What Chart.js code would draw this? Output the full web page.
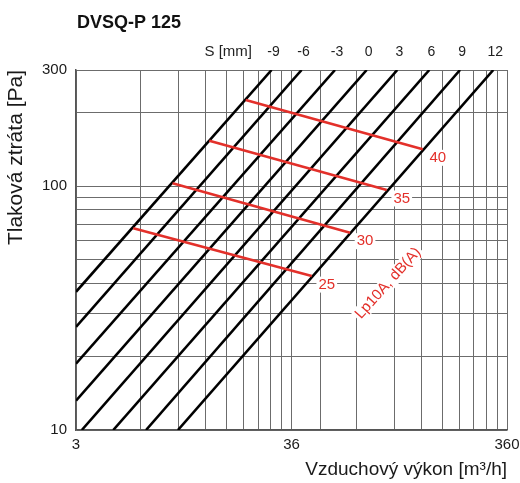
<!DOCTYPE html>
<html>
<head>
<meta charset="utf-8">
<script src="https://cdn.jsdelivr.net/npm/chart.js@4.4.0/dist/chart.umd.min.js"></script>
<style>
  html, body { margin: 0; padding: 0; background: #fff; }
</style>
</head>
<body>
<canvas id="myChart" width="520" height="483"></canvas>
<script>
const chartTitle = 'DVSQ-P 125'

// black curves: S setting [mm] and two end points (flow m3/h, pressure Pa)
const sLabels = ['-9', '-6', '-3', '0', '3', '6', '9', '12']
const sFlowLow = [3.6, 3.6, 3.6, 3.6, 3.83, 5.36, 7.61, 10.7]
const sPressLow = [36.9, 26.5, 18.7, 13.2, 10, 10, 10, 10]
const sFlowHigh = [29.1, 40.1, 57.3, 80.4, 111.5, 157, 218, 311]
const sPressHigh = [300, 300, 300, 300, 300, 300, 300, 300]

// red lines: noise level Lp10A dB(A)
const noiseLabels = ['25', '30', '35', '40']
const noiseFlowStart = [6.64, 10.1, 14.96, 22.07]
const noisePressStart = [67.2, 102.9, 153.9, 226]
const noiseFlowEnd = [44.7, 67.3, 99.6, 146.3]
const noisePressEnd = [42.8, 64.5, 96.6, 141.8]

// grid lines and tick labels
const xGrid = [3.6, 7.2, 10.8, 14.4, 18, 21.6, 25.2, 28.8, 32.4, 36, 49, 72, 108, 144, 180, 216, 252, 288, 324, 360]
const xTickValues = [3.6, 36, 360]
const xTickLabels = ['3', '36', '360']
const yGrid = [10, 20, 30, 40, 50, 60, 70, 80, 90, 100, 200, 300]
const yTickValues = [10, 100, 300]

const red = '#e3302a'
const fontFamily = '"Liberation Sans", Arial, sans-serif'

const blackSets = sLabels.map((s, i) => ({
    label: 'S ' + s,
    data: [{ x: sFlowLow[i], y: sPressLow[i] }, { x: sFlowHigh[i], y: sPressHigh[i] }],
    borderColor: '#000',
    borderWidth: 2.6,
    pointRadius: 0,
    order: 2,
}))

const redSets = noiseLabels.map((n, i) => ({
    label: n + ' dB(A)',
    data: [{ x: noiseFlowStart[i], y: noisePressStart[i] }, { x: noiseFlowEnd[i], y: noisePressEnd[i] }],
    borderColor: red,
    borderWidth: 2.6,
    pointRadius: 0,
    order: 1,
}))

function boxedText(ctx, text, x, y) {
    const w = ctx.measureText(text).width
    ctx.fillStyle = '#fff'
    ctx.fillRect(x - w / 2 - 2, y - 8, w + 4, 16)
    ctx.fillStyle = red
    ctx.fillText(text, x, y)
}

const labelPlugin = {
    id: 'chartLabels',
    afterDatasetsDraw: (chart) => {
        const { ctx } = chart
        const xs = chart.scales.x
        const ys = chart.scales.y
        ctx.save()
        ctx.textBaseline = 'middle'

        // title
        ctx.fillStyle = '#111'
        ctx.font = 'bold 18px ' + fontFamily
        ctx.textAlign = 'left'
        ctx.fillText(chartTitle, 77, 23)

        // S [mm] labels above the curves
        ctx.fillStyle = '#222'
        ctx.textAlign = 'right'
        ctx.font = '15px ' + fontFamily
        ctx.fillText('S [mm]', 252, 52)
        ctx.font = '14px ' + fontFamily
        ctx.textAlign = 'center'
        sLabels.forEach((s, i) => {
            ctx.fillText(s, xs.getPixelForValue(sFlowHigh[i]) + 2, 52)
        })

        // noise level numbers at the end of red lines
        ctx.font = '15px ' + fontFamily
        noiseLabels.forEach((n, i) => {
            const px = xs.getPixelForValue(noiseFlowEnd[i])
            const py = ys.getPixelForValue(noisePressEnd[i])
            boxedText(ctx, n, px + 15, py + 8.5)
        })

        // rotated caption
        ctx.translate(xs.getPixelForValue(101), ys.getPixelForValue(40))
        ctx.rotate(-48 * Math.PI / 180)
        boxedText(ctx, 'Lp10A, dB(A)', 0, 0)
        ctx.restore()
    }
}

const config = {
    type: 'line',
    data: { datasets: [...redSets, ...blackSets] },
    plugins: [labelPlugin],
    options: {
        responsive: false,
        animation: false,
        devicePixelRatio: 1,
        layout: { padding: { top: 70, right: 13, left: 0, bottom: 0 }, autoPadding: false },
        plugins: { legend: { display: false }, tooltip: { enabled: false } },
        scales: {
            x: {
                type: 'logarithmic',
                min: 3.6,
                max: 360,
                afterBuildTicks: (scale) => {
                    scale.ticks = xGrid.map(v => ({ value: v }))
                    scale.min = 3.6
                    scale.max = 360
                },
                afterFit: (scale) => {
                    scale.height = 53
                    scale.paddingRight = 0
                    scale.paddingLeft = 0
                },
                grid: { color: '#6c6c6c', lineWidth: 1, drawTicks: false },
                border: { color: '#555', width: 1.5 },
                ticks: {
                    autoSkip: false,
                    maxRotation: 0,
                    padding: 6,
                    color: '#1a1a1a',
                    font: { family: fontFamily, size: 15 },
                    callback: function (value) {
                        const i = xTickValues.indexOf(value)
                        return i >= 0 ? xTickLabels[i] : ''
                    }
                },
                title: {
                    display: true,
                    text: 'Vzduchový výkon [m³/h]',
                    align: 'end',
                    color: '#1a1a1a',
                    font: { family: fontFamily, size: 19 },
                    padding: { top: 0, bottom: 2 }
                }
            },
            y: {
                type: 'logarithmic',
                min: 10,
                max: 300,
                afterBuildTicks: (scale) => {
                    scale.ticks = yGrid.map(v => ({ value: v }))
                    scale.min = 10
                    scale.max = 300
                },
                afterFit: (scale) => { scale.width = 76 },
                grid: { color: '#6c6c6c', lineWidth: 1, drawTicks: false },
                border: { color: '#555', width: 1.5 },
                ticks: {
                    autoSkip: false,
                    padding: 9,
                    color: '#1a1a1a',
                    font: { family: fontFamily, size: 15 },
                    callback: function (value) {
                        return yTickValues.includes(value) ? String(value) : ''
                    }
                },
                title: {
                    display: true,
                    text: 'Tlaková ztráta [Pa]',
                    align: 'end',
                    color: '#1a1a1a',
                    font: { family: fontFamily, size: 21 },
                    padding: { top: 4, bottom: 0 }
                }
            }
        }
    }
}

const ctx = document.querySelector('#myChart').getContext('2d')
const myChart = new Chart(ctx, config)
</script>
</body>
</html>
